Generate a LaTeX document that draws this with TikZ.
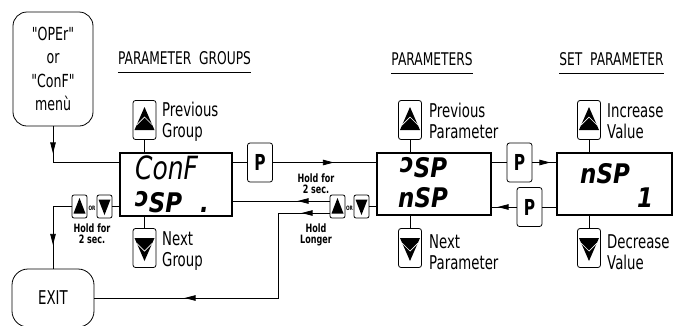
\documentclass[tikz,border=0pt]{standalone}
\usepackage{fontspec}
\newfontfamily\lblfont[FakeStretch=0.7]{DejaVu Sans}
\newfontfamily\segfont[FakeStretch=0.85]{DejaVu Sans}
\newfontfamily\segthin[FakeStretch=0.78]{DejaVu Sans}
\usetikzlibrary{arrows.meta,decorations.markings}

\tikzset{
  lbl/.style={font=\lblfont\fontsize{19}{20.5}\selectfont, align=left, inner sep=0pt},
  hdr/.style={font=\lblfont\fontsize{17.5}{20}\selectfont, inner sep=0pt},
  hold/.style={font=\lblfont\bfseries\fontsize{11.5}{11}\selectfont, align=center, inner sep=0pt},
  orlbl/.style={font=\lblfont\bfseries\fontsize{6}{6}\selectfont, inner sep=0pt},
  disp/.style={draw, line width=1.1pt, minimum width=114pt, minimum height=62pt, inner sep=0pt},
  btn/.style={draw, line width=.8pt, rounded corners=2.5pt, minimum width=23pt, minimum height=39pt, inner sep=0pt},
  sbtn/.style={draw, line width=.8pt, rounded corners=2pt, minimum width=15pt, minimum height=23pt, inner sep=0pt},
  pkey/.style={btn, minimum width=25pt, font=\lblfont\bfseries\fontsize{22}{22}\selectfont},
  menu/.style={draw, line width=.8pt, rounded corners=14pt, inner sep=0pt},
  seg/.style={font=\segfont\bfseries\itshape\fontsize{27}{27}\selectfont, inner sep=0pt, anchor=west},
  segl/.style={font=\segthin\itshape\fontsize{32}{32}\selectfont, inner sep=0pt, anchor=west},
  wire/.style={line width=.8pt},
  tip at/.style={postaction={decorate, decoration={markings, mark=at position #1 with {\arrow{>}}}}},
}

% button arrows
\newcommand{\uptri}[1]{%
  \fill ([yshift=13pt]#1.center) -- ([shift={(10pt,-10pt)}]#1.center) -- ([shift={(-10pt,-10pt)}]#1.center) -- cycle;
  \draw[white, line width=.7pt] ([shift={(-8pt,-5pt)}]#1.center) -- ([yshift=3pt]#1.center) -- ([shift={(8pt,-5pt)}]#1.center);}
\newcommand{\dntri}[1]{%
  \fill ([yshift=-13pt]#1.center) -- ([shift={(10pt,10pt)}]#1.center) -- ([shift={(-10pt,10pt)}]#1.center) -- cycle;
  \draw[white, line width=.7pt] ([shift={(-8pt,5pt)}]#1.center) -- ([yshift=-3pt]#1.center) -- ([shift={(8pt,5pt)}]#1.center);}
\newcommand{\supt}[1]{%
  \fill ([yshift=8.5pt]#1.center) -- ([shift={(6pt,-7pt)}]#1.center) -- ([shift={(-6pt,-7pt)}]#1.center) -- cycle;}
\newcommand{\sdnt}[1]{%
  \fill ([yshift=-8.5pt]#1.center) -- ([shift={(6pt,7pt)}]#1.center) -- ([shift={(-6pt,7pt)}]#1.center) -- cycle;}

\begin{document}
\begin{tikzpicture}[x=1pt, y=-1pt, >={Triangle[length=11pt,width=5.5pt]}]
\useasboundingbox (0,0) rectangle (683,325);

% entry and exit
\node[menu, lbl, align=center, font=\lblfont\fontsize{18}{23.5}\selectfont, minimum width=80pt, minimum height=114pt] (menu) at (53,69) {"OPEr"\\or\\"ConF"\\menù};
\node[menu, lbl, rounded corners=16pt, minimum width=82pt, minimum height=58pt] (exit) at (53,298) {EXIT};

% headings
\node[hdr] (hgroups) at (184.5,58) {PARAMETER\ \ GROUPS};
\node[hdr] (hparams) at (432,59) {PARAMETERS};
\node[hdr] (hset) at (611.5,59) {SET\ \ PARAMETER};
\foreach \h in {hgroups,hparams,hset}
  \draw[wire] ([yshift=-8pt]\h.south west) -- ([yshift=-8pt]\h.south east);

% displays
\node[disp, minimum width=112pt, minimum height=63pt] (gdisp) at (176,184.5) {};
\node[disp] (pdisp) at (434,184) {};
\node[disp, minimum width=115pt] (sdisp) at (614.5,184) {};
\node[segl] (gtop) at (135,168) {ConF};
\node[seg] (gbot) at (135,202) {\raisebox{.2em}{ɔ}SP\hspace{18pt}.};
\node[seg] (ptop) at (400,167.5) {\raisebox{.2em}{ɔ}SP};
\node[seg] (pbot) at (398,198) {nSP};
\node[seg] (stop) at (580,174) {nSP};
\node[seg] (sbot) at (637,198) {1};

% arrow keys
\node[btn] (gprev) at (144.5,120) {}; \uptri{gprev}
\node[btn] (gnext) at (144.5,248) {}; \dntri{gnext}
\node[btn] (pprev) at (410,120) {}; \uptri{pprev}
\node[btn] (pnext) at (410,248) {}; \dntri{pnext}
\node[btn] (sinc) at (589,120) {}; \uptri{sinc}
\node[btn] (sdec) at (589,248) {}; \dntri{sdec}
\node[sbtn] (gup) at (79.5,206.5) {}; \supt{gup}
\node[sbtn] (gdn) at (104.5,206.5) {}; \sdnt{gdn}
\node[sbtn] (pup) at (337.5,206.5) {}; \supt{pup}
\node[sbtn] (pdn) at (361.5,206.5) {}; \sdnt{pdn}
\node[orlbl] (gor) at (92,208) {OR};
\node[orlbl] (por) at (349.5,208) {OR};

% P keys
\node[pkey] (pkeyA) at (260,162.5) {P};
\node[pkey] (pkeyB) at (519.5,162.5) {P};
\node[pkey] (pkeyC) at (529.5,207) {P};

% key labels
\node[lbl, anchor=west] (tgprev) at (162,122) {Previous\\Group};
\node[lbl, anchor=west] (tgnext) at (162,251) {Next\\Group};
\node[lbl, anchor=west] (tpprev) at (429,121) {Previous\\Parameter};
\node[lbl, anchor=west] (tpnext) at (429,252) {Next\\Parameter};
\node[lbl, anchor=west] (tsinc) at (607,121) {Increase\\Value};
\node[lbl, anchor=west] (tsdec) at (607,252) {Decrease\\Value};
\node[hold] (hgl) at (92,234) {Hold for\\2 sec.};
\node[hold] (hpl) at (316,184) {Hold for\\2 sec.};
\node[hold] (hpll) at (316,235) {Hold\\Longer};

% key stubs
\foreach \k/\d in {gprev/gdisp,pprev/pdisp,sinc/sdisp}
  \draw[wire] (\k.south) -- (\k.south |- \d.north);
\foreach \k/\d in {gnext/gdisp,pnext/pdisp,sdec/sdisp}
  \draw[wire] (\k.north) -- (\k.north |- \d.south);

% flow lines
\coordinate (retA) at ([yshift=5.5pt]pup.west);
\coordinate (retB) at ([yshift=-6.5pt]pup.west);
\coordinate (retC) at (278,298);
\draw[wire, tip at=27pt] (menu.south) |- (gdisp.west |- pkeyA);
\draw[wire] (gdisp.east |- pkeyA) -- (pkeyA.west);
\draw[wire, tip at=61pt] (pkeyA.east) -- (pdisp.west |- pkeyA);
\draw[wire] (pdisp.east |- pkeyB) -- (pkeyB.west);
\draw[wire, tip at=18pt] (pkeyB.east) -- (sdisp.west |- pkeyB);
\draw[wire] (sdisp.west |- pkeyC) -- (pkeyC.east);
\draw[wire, tip at=19pt] (pkeyC.west) -- (pdisp.east |- pkeyC);
\draw[wire] (pdisp.west |- pdn) -- (pdn.east);
\draw[wire, tip at=32pt] (retA) -- (retA -| gdisp.east);
\draw[wire, tip at=28pt, tip at=230pt] (retB) -| (retC) -- (exit.east);
\draw[wire] (gdisp.west |- gdn) -- (gdn.east);
\draw[wire, tip at=57pt] (gup.west) -| (exit.north);
\end{tikzpicture}
\end{document}
